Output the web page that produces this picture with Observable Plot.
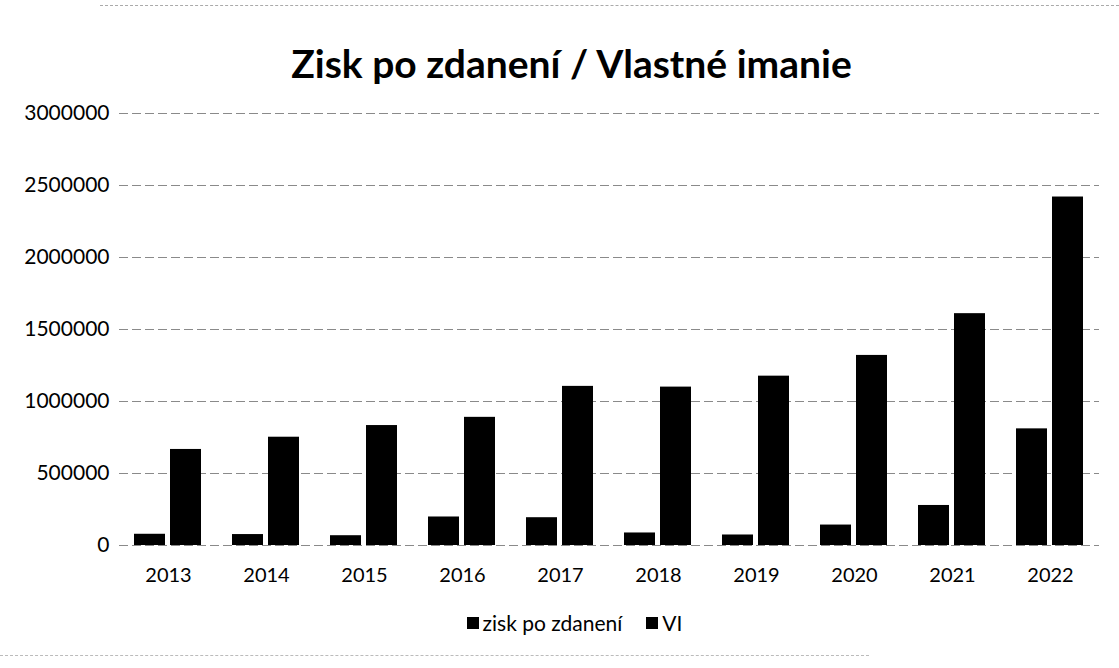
<!DOCTYPE html>
<html>
<head>
<meta charset="utf-8">
<script src="https://cdn.jsdelivr.net/npm/d3@7"></script>
<script src="https://cdn.jsdelivr.net/npm/@observablehq/plot@0.6"></script>
<style>
  body { margin: 0; background: #fff; font-family: Lato, "Open Sans", sans-serif; color: #000; }
  #wrap { width: 1119px; height: 668px; position: relative; overflow: hidden; }
  #topline { position: absolute; left: 100px; right: 0; top: 5px; border-top: 1px dashed #aaa; }
  #botline { position: absolute; left: 0; right: 250px; top: 655px; border-top: 1px dashed #bbb; }
  #title { height: 100px; line-height: 126px; text-align: center; font-size: 39px; font-weight: 700; padding-left: 24px; box-sizing: border-box; }
  #legend { display: flex; justify-content: center; gap: 24px; font-size: 21px; padding-left: 30px; margin-top: 20px; }
  .sw { display: inline-flex; align-items: center; gap: 4px; }
  .sq { width: 12px; height: 12px; background: #000; display: inline-block; }
</style>
</head>
<body>
<div id="wrap">
  <div id="topline"></div>
  <div id="title">Zisk po zdanení / Vlastné imanie</div>
  <div id="chart"></div>
  <div id="legend"></div>
  <div id="botline"></div>
</div>
<script>
const years = ["2013","2014","2015","2016","2017","2018","2019","2020","2021","2022"];
const seriesNames = ["zisk po zdanení", "VI"];
const zisk = [78000, 76000, 68000, 198000, 193000, 87000, 73000, 142000, 278000, 810000];
const vi = [667000, 752000, 833000, 890000, 1105000, 1100000, 1176000, 1320000, 1610000, 2420000];
const yTicks = [0, 500000, 1000000, 1500000, 2000000, 2500000, 3000000];

const rows = [];
years.forEach((y, i) => {
  rows.push({year: y, series: seriesNames[0], value: zisk[i]});
  rows.push({year: y, series: seriesNames[1], value: vi[i]});
});

const chart = Plot.plot({
  width: 1119,
  height: 490,
  marginTop: 13,
  marginBottom: 45,
  marginLeft: 119,
  marginRight: 20,
  style: {fontFamily: "Lato, 'Open Sans', sans-serif", fontSize: "20px", color: "#000", background: "#fff"},
  x: {domain: years, padding: 0, label: null, tickSize: 0, tickPadding: 22},
  y: {domain: [0, 3000000], ticks: yTicks, tickFormat: d => String(d), label: null, tickSize: 0, tickPadding: 10},
  marks: [
    Plot.ruleY(yTicks, {stroke: "#8a8a8a", strokeDasharray: "9 4", strokeWidth: 1}),
    Plot.barY(rows.filter(d => d.series === seriesNames[0]), {x: "year", y: "value", fill: "#000", insetLeft: 15, insetRight: 52}),
    Plot.barY(rows.filter(d => d.series === seriesNames[1]), {x: "year", y: "value", fill: "#000", insetLeft: 51, insetRight: 16})
  ]
});
chart.querySelectorAll("g[aria-label='y-axis tick label'] text, g[aria-label='y-axis tick label']").forEach(el => el.style.fontSize = "21px");
document.getElementById("chart").appendChild(chart);

const leg = document.getElementById("legend");
seriesNames.forEach(n => {
  const s = document.createElement("span");
  s.className = "sw";
  const q = document.createElement("span");
  q.className = "sq";
  s.appendChild(q);
  s.appendChild(document.createTextNode(n));
  leg.appendChild(s);
});
</script>
</body>
</html>
